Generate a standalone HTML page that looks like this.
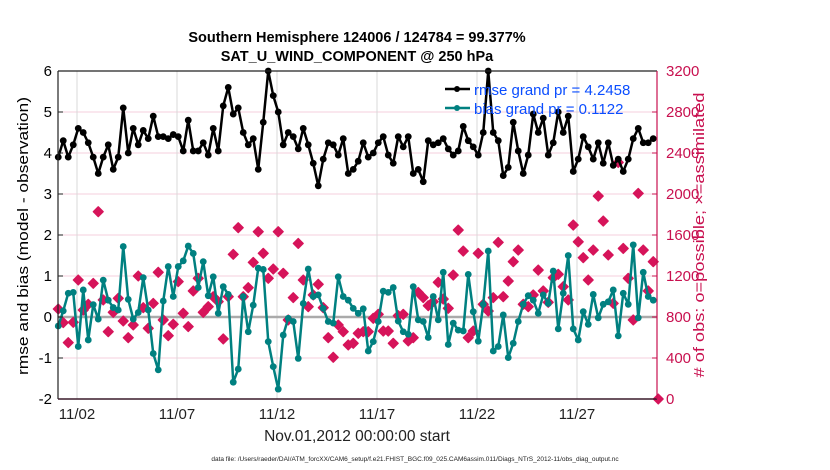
<!DOCTYPE html>
<html><head><meta charset="utf-8"><style>
body{margin:0;background:#fff;width:830px;height:470px;overflow:hidden}
svg{display:block;font-family:"Liberation Sans",Arial,sans-serif}
</style></head><body>
<svg id="chart" width="830" height="470" viewBox="0 0 830 470">
<text x="357" y="42" text-anchor="middle" font-size="14.5" font-weight="bold">Southern Hemisphere 124006 / 124784 = 99.377%</text>
<text x="357" y="61" text-anchor="middle" font-size="14.5" font-weight="bold">SAT_U_WIND_COMPONENT @ 250 hPa</text>
<text transform="translate(28,236) rotate(-90)" text-anchor="middle" font-size="15" textLength="278" lengthAdjust="spacingAndGlyphs">rmse and bias (model - observation)</text>
<text transform="translate(704,235) rotate(-90)" text-anchor="middle" font-size="15" textLength="285" lengthAdjust="spacingAndGlyphs" fill="#c8104f"># of obs: o=possible; ×=assimilated</text>
<text x="357" y="441" text-anchor="middle" font-size="15.5" fill="#222">Nov.01,2012 00:00:00 start</text>
<text x="415" y="461" text-anchor="middle" font-size="6.5" fill="#222">data file: /Users/raeder/DAI/ATM_forcXX/CAM6_setup/f.e21.FHIST_BGC.f09_025.CAM6assim.011/Diags_NTrS_2012-11/obs_diag_output.nc</text>
<g id="grid"></g><g id="marks"></g><g id="axes"></g>
<g>
<line x1="445" y1="89" x2="470" y2="89" stroke="#000" stroke-width="2.5"/><circle cx="457" cy="89" r="3" fill="#000"/>
<text x="474" y="95" font-size="15" fill="#0a4dff">rmse grand pr = 4.2458</text>
<line x1="445" y1="108" x2="470" y2="108" stroke="#008080" stroke-width="2.5"/><circle cx="457" cy="108" r="3" fill="#008080"/>
<text x="474" y="114" font-size="15" fill="#0a4dff">bias grand pr = 0.1122</text>
</g>
</svg>
<script>
const rmse=[3.9,4.3,3.9,4.2,4.6,4.5,4.25,3.9,3.5,3.9,4.2,3.6,3.9,5.1,4.0,4.6,4.2,4.55,4.35,4.9,4.4,4.4,4.35,4.45,4.4,4.05,4.8,4.05,4.05,4.25,3.95,4.6,4.05,5.15,5.6,4.95,5.1,4.5,4.2,4.35,3.6,4.75,6.0,5.4,5.0,4.2,4.5,4.4,4.1,4.6,4.2,3.75,3.2,3.85,4.25,4.2,3.95,4.35,3.5,3.6,3.8,4.25,3.9,4.0,4.25,4.4,3.95,3.75,4.4,4.15,4.4,3.5,3.6,3.3,4.3,4.2,4.25,4.35,4.1,3.95,4.05,4.65,4.3,4.15,3.95,4.5,6.0,4.5,4.3,3.45,3.65,4.75,4.05,3.5,3.95,4.95,4.5,4.85,3.95,4.25,5.0,4.5,4.9,3.55,3.85,4.4,4.15,3.85,4.25,3.75,4.25,3.7,3.85,3.55,3.85,4.35,4.6,4.25,4.25,4.35];
const bias=[-0.22,0.15,0.58,0.6,-0.72,0.66,-0.56,0.3,-0.05,0.9,0.41,0.23,0.17,1.72,0.43,-0.05,0.11,0.96,0.17,-0.89,-1.29,0.39,1.23,0.5,1.23,1.37,1.73,1.55,0.72,1.35,0.52,0.98,0.09,0.74,0.55,-1.59,-1.27,0.5,-0.36,0.29,1.19,1.16,-0.6,-1.21,-1.76,-0.44,-0.03,-0.11,-1.01,0.33,1.17,0.5,0.54,0.21,-0.11,-0.15,0.98,0.5,0.41,0.21,0.09,0.2,-0.83,-0.6,-0.11,0.63,0.6,0.72,-0.1,-0.36,-0.42,0.74,-0.07,-0.11,-0.5,0.5,-0.07,1.09,-0.67,-0.15,-0.32,-0.34,1.04,0.13,-0.59,0.31,1.61,-0.83,-0.72,0.05,-0.99,-0.64,-0.11,0.31,0.52,0.41,0.09,0.54,0.33,1.12,-0.29,0.58,1.5,-0.29,-0.56,0.13,-0.18,0.55,-0.02,0.31,0.37,0.66,-0.46,0.58,0.31,1.76,-0.02,1.09,0.5,0.41];
const nobs=[878,745,550,748,1161,868,924,1128,1827,966,657,846,982,761,598,722,1200,891,690,933,1236,771,618,729,1145,836,706,1054,1177,846,901,998,950,586,998,1411,1671,998,1086,1333,1632,1421,1177,1268,1632,1226,771,989,1518,1161,901,1015,1119,891,598,407,722,657,527,543,641,657,657,787,826,663,663,543,813,826,566,598,1040,989,910,950,1138,975,885,1209,1648,1443,598,663,1421,924,858,989,1528,998,1151,1340,1453,924,901,1015,1258,1054,943,1184,1216,1096,966,1697,1534,1379,1161,1453,1980,1736,1405,933,2308,1469,1177,771,2006,1453,1054,1340,0];
const leftTicks=[-2,-1,0,1,2,3,4,5,6];
const rightTicks=[0,400,800,1200,1600,2000,2400,2800,3200];
const xTickDays=[2,7,12,17,22,27];
const xTickLabels=["11/02","11/07","11/12","11/17","11/22","11/27"];
const L=58,R=657,T=71,B=399;
const X0=1.05,X1=31.0;
const sx=d=>L+(d-X0)/(X1-X0)*(R-L);
const syL=v=>B-(v+2)/8*(B-T);
const syR=v=>B-v/3200*(B-T);
const day=i=>1.0625+0.25*i;
const NS="http://www.w3.org/2000/svg";
function mk(tag,attrs,parent){const e=document.createElementNS(NS,tag);for(const k in attrs)e.setAttribute(k,attrs[k]);parent.appendChild(e);return e;}
const grid=document.getElementById('grid'),marks=document.getElementById('marks'),axes=document.getElementById('axes');
mk('rect',{x:L,y:T,width:R-L,height:B-T,fill:'#fff'},grid);
leftTicks.forEach(v=>{const y=syL(v);
 const g=mk('line',{x1:L,x2:R,y1:y,y2:y,stroke:'#f5cfdc','stroke-width':1},grid);
 
 
 const t=mk('text',{x:L-6,y:y+5,'text-anchor':'end','font-size':15},axes);t.textContent=v;
 
 
 mk('line',{x1:L,x2:L+5,y1:y,y2:y,stroke:'#222'},axes);
});
xTickDays.forEach((d,k)=>{const x=sx(d);
 const g=mk('line',{x1:x,x2:x,y1:T,y2:B,stroke:'#d8d8d8','stroke-width':1},grid);
 
 
 const t=mk('text',{x:x,y:B+20,'text-anchor':'middle','font-size':15,fill:'#222'},axes);t.textContent=xTickLabels[k];
 
 
});
rightTicks.forEach(v=>{const y=syR(v);
 const t=mk('text',{x:R+9,y:y+5,'text-anchor':'start','font-size':15,fill:'#c8104f'},axes);t.textContent=v;
 
 
 mk('line',{x1:R-5,x2:R,y1:y,y2:y,stroke:'#c8104f'},axes);
});
const z=mk('line',{x1:L,x2:R,y1:syL(0),y2:syL(0),stroke:'#aaaaaa','stroke-width':2.5},grid);


nobs.forEach((v,i)=>{const x=sx(day(i)),y=syR(v);
 const p=mk('path',{d:`M${x-5},${y}L${x},${y-5}L${x+5},${y}L${x},${y+5}Z`,fill:'#d6145a',stroke:'#d6145a','stroke-width':1.2,'stroke-linejoin':'round'},marks);
 
 
});
function series(arr,color,name){
 const pts=arr.map((v,i)=>sx(day(i))+','+syL(v)).join(' ');
 const pl=mk('polyline',{points:pts,fill:'none',stroke:color,'stroke-width':2.5,'stroke-linejoin':'round'},marks);
 
 
 arr.forEach((v,i)=>{const c=mk('circle',{cx:sx(day(i)),cy:syL(v),r:3.4,fill:color},marks);
  
  });
}
series(bias,'#008080','bias');
series(rmse,'#000000','rmse');
mk('line',{x1:L,x2:L,y1:T,y2:B,stroke:'#222','stroke-width':1.2},axes);
mk('line',{x1:L,x2:R,y1:T,y2:T,stroke:'#222','stroke-width':1.2},axes);
mk('line',{x1:L,x2:R,y1:B,y2:B,stroke:'#3a1a2a','stroke-width':1.5},axes);
mk('line',{x1:R,x2:R,y1:T,y2:B,stroke:'#c8104f','stroke-width':1.2},axes);
</script>
</body></html>
